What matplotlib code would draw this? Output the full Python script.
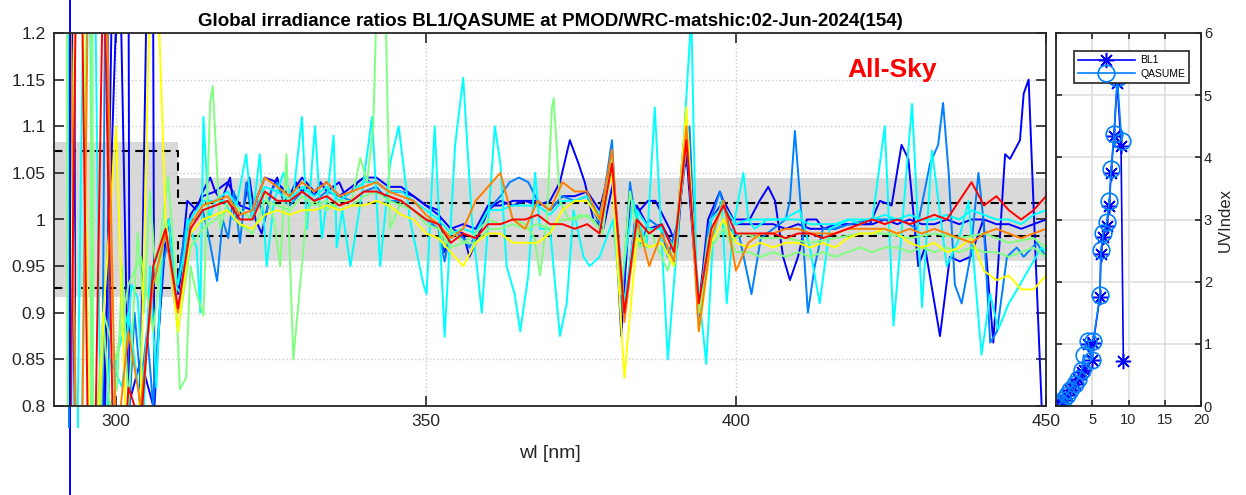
import matplotlib
matplotlib.use("Agg")
import numpy as np
import matplotlib.pyplot as plt

plt.rcParams['font.family'] = ['Liberation Sans', 'DejaVu Sans']

# wavelength grid of the "quiet" scans (nm)
wl = np.arange(290, 451, 2)

# ratio BL1/QASUME, one list per scan (2 nm steps)
red = [0.4, 0.4, 1.5, 0.5, 1.3, 0.6, 0.82, 0.78, 0.95, 0.99,
       0.905, 0.99, 1.01, 1.015, 1.02, 1.0, 1.0, 1.03, 1.02, 1.02,
       1.03, 1.02, 1.025, 1.015, 1.02, 1.03, 1.03, 1.025, 1.02, 1.01,
       1.0, 0.995, 0.975, 0.985, 0.98, 0.995, 0.995, 1.0, 1.0, 1.005,
       0.995, 0.995, 0.99, 0.995, 0.985, 1.06, 0.9, 1.0, 0.985, 0.995,
       0.965, 1.085, 0.91, 0.99, 1.015, 0.985, 0.985, 0.985, 0.985, 0.98,
       0.985, 0.985, 0.98, 0.985, 0.99, 0.995, 1.0, 0.995, 1.0, 0.995,
       1.0, 1.005, 1.0, 1.02, 1.04, 1.015, 1.025, 1.01, 1.0, 1.01,
       1.025]
orange = [1.6, 1.6, 0.5, 1.5, 1.4, 0.75, 0.88, 0.8, 0.93, 0.985,
          0.9, 0.995, 1.015, 1.02, 1.025, 1.005, 1.01, 1.045, 1.035, 1.025,
          1.04, 1.03, 1.04, 1.025, 1.03, 1.035, 1.04, 1.03, 1.025, 1.02,
          1.005, 0.995, 0.98, 0.99, 1.02, 1.035, 1.05, 1.0, 0.99, 1.02,
          1.01, 1.04, 1.03, 1.03, 1.0, 1.075, 0.89, 1.0, 0.95, 0.985,
          0.955, 1.1, 0.88, 0.98, 1.02, 0.945, 0.975, 0.985, 0.985, 0.99,
          0.99, 0.985, 0.985, 0.985, 0.99, 0.99, 0.99, 0.99, 0.985, 0.99,
          0.985, 0.99, 0.985, 0.98, 0.975, 0.985, 0.99, 0.985, 0.98, 0.985,
          0.99]
yellow = [0.5, 0.5, 1.6, 0.6, 0.9, 1.1, 0.7, 0.82, 1.4, 1.0,
          0.88, 0.985, 1.0, 1.005, 1.01, 0.995, 0.99, 1.005, 1.01, 1.005,
          1.01, 1.01, 1.015, 1.01, 1.015, 1.015, 1.02, 1.015, 1.005, 1.0,
          0.985, 0.98, 0.965, 0.95, 0.975, 0.985, 0.985, 0.975, 0.975, 0.975,
          0.985, 1.01, 1.02, 1.02, 1.0, 1.05, 0.83, 0.98, 0.97, 0.975,
          0.95, 1.12, 0.88, 0.975, 1.0, 0.975, 0.97, 0.975, 0.97, 0.975,
          0.975, 0.97, 0.975, 0.97, 0.98, 0.985, 0.985, 0.99, 0.985, 0.975,
          0.97, 0.975, 0.965, 0.97, 0.98, 0.945, 0.935, 0.94, 0.925, 0.925,
          0.94]
green_b = [1.6, 1.6, 0.5, 0.7, 0.9, 0.85, 0.93, 0.96, 0.88, 1.0,
           0.88, 0.97, 0.99, 1.0, 1.01, 0.995, 0.985, 1.02, 1.015, 1.01,
           1.025, 1.015, 1.02, 1.01, 1.015, 1.025, 1.03, 1.02, 1.015, 1.01,
           0.995, 0.99, 0.97, 0.975, 0.975, 0.99, 0.99, 0.995, 0.99, 0.995,
           0.99, 1.0, 1.0, 1.005, 0.99, 1.06, 0.9, 0.99, 0.97, 0.975,
           0.95, 1.1, 0.9, 0.97, 0.99, 0.965, 0.965, 0.96, 0.965, 0.96,
           0.965, 0.96, 0.965, 0.96, 0.965, 0.97, 0.965, 0.97, 0.97, 0.965,
           0.97, 0.965, 0.97, 0.965, 0.97, 0.965, 0.965, 0.96, 0.965, 0.97,
           0.96]
blue_b = [1.6, 1.6, 0.4, 0.6, 0.7, 1.5, 0.8, 0.85, 0.8, 0.98,
          0.92, 1.005, 1.025, 1.03, 1.04, 1.015, 1.01, 1.045, 1.04, 1.025,
          1.045, 1.03, 1.04, 1.025, 1.035, 1.045, 1.045, 1.035, 1.035, 1.025,
          1.015, 1.005, 0.99, 0.995, 0.99, 1.015, 1.015, 1.02, 1.02, 1.02,
          1.01, 1.025, 1.025, 1.03, 1.01, 1.065, 0.9, 1.015, 0.99, 0.995,
          0.97, 1.07, 0.9, 1.0, 1.02, 0.995, 0.995, 0.995, 0.995, 0.99,
          0.995, 0.99, 0.99, 0.99, 0.995, 0.995, 0.995, 1.0, 0.995, 1.0,
          0.995, 0.995, 1.0, 0.995, 1.0, 1.0, 0.995, 0.995, 0.99, 0.995,
          1.0]
cyan_b = [0.4, 0.4, 0.5, 1.6, 0.5, 0.85, 0.9, 0.8, 0.95, 0.98,
          0.93, 1.0, 1.02, 1.02, 1.03, 1.01, 1.0, 1.035, 1.03, 1.02,
          1.035, 1.025, 1.035, 1.02, 1.03, 1.04, 1.04, 1.03, 1.03, 1.02,
          1.01, 1.0, 0.985, 0.99, 0.985, 1.01, 1.01, 1.015, 1.015, 1.015,
          1.005, 1.02, 1.02, 1.025, 1.005, 1.06, 0.91, 1.01, 0.99, 0.99,
          0.97, 1.09, 0.9, 1.0, 1.015, 0.995, 1.0, 1.0, 1.0, 1.0,
          1.0, 0.995, 0.995, 0.995, 1.0, 1.0, 1.0, 1.005, 1.0, 1.005,
          1.0, 1.0, 1.005, 1.0, 1.01, 1.005, 1.0, 1.0, 0.995, 1.005,
          1.01]

# noisy scans, (wl, ratio) at the turning points
blue_a = [(290, 0.5), (292.4, 0.5), (293.2, 1.6), (293.5, 0.5), (297, 0.6), (301.9, 1.6), (302.3, 0.5),
          (304, 0.85), (305.8, 1.6), (306.2, 0.8), (307.5, 0.95), (308.5, 1.0), (309.5, 0.93),
          (310.5, 0.95), (311.5, 1.02), (313, 1.01), (314, 1.03), (315.2, 1.045), (316, 1.03),
          (317, 1.02), (318.4, 1.045), (319.2, 1.0), (320.5, 1.01), (321.5, 1.045), (322.5, 1.0),
          (323.5, 0.985), (325, 1.03), (326, 1.045), (327, 1.02), (328, 1.025), (329, 1.04),
          (330, 1.03), (331, 1.035), (332, 1.025), (333, 1.04), (334, 1.03), (335, 1.035),
          (336, 1.04), (337, 1.025), (338, 1.03), (339, 1.04), (340, 1.045), (341, 1.04),
          (342, 1.04), (343, 1.035), (344, 1.03), (346, 1.03), (348, 1.025), (350, 1.015),
          (352, 1.01), (353, 0.965), (354, 0.99), (356, 0.985), (357, 0.96), (358, 0.975),
          (360, 1.01), (362, 1.02), (364, 1.015), (366, 1.02), (368, 1.015), (370, 1.02),
          (371.6, 1.04), (373.2, 1.085), (374.6, 1.06), (375.6, 1.04), (377, 1.0), (378.6, 0.99),
          (380.2, 1.04), (381.5, 0.875), (382.9, 1.02), (384.5, 1.01), (385.8, 1.02), (387, 1.02),
          (389.3, 0.99), (390.5, 0.97), (391.5, 1.056), (392.5, 1.06), (393.9, 0.9), (395.5, 1.0),
          (397.4, 1.03), (399, 1.0), (400.6, 1.0), (402.2, 1.0), (403.8, 1.02), (405.2, 1.035),
          (406.3, 1.02), (407.6, 0.96), (408.7, 0.935), (410, 0.96), (411.4, 1.0), (413, 1.0),
          (414.1, 0.99), (416.2, 0.995), (418.4, 0.995), (420, 0.995), (421.6, 0.995), (423.2, 1.02),
          (425.1, 1.015), (426.7, 1.08), (427.8, 1.065), (429.4, 0.95), (430.5, 0.97), (432.9, 0.875),
          (434.5, 0.96), (436.1, 0.955), (437.8, 0.96), (439.9, 1.0), (441.5, 0.868), (443.4, 1.07),
          (444.2, 1.065), (445.8, 1.085), (446.4, 1.135), (447.2, 1.15), (448.2, 0.98), (449.3, 0.8),
          (450, 0.7)]
dodger_a = [(290, 0.4), (292.4, 0.4), (297.5, 0.5), (298.6, 1.6), (299, 0.4), (303, 0.9),
            (304, 0.82), (305, 0.88), (306, 0.8), (307.5, 0.95), (308.5, 0.98), (309.5, 0.91),
            (310.5, 0.96), (311.5, 1.0), (313, 1.0), (314, 1.01), (315, 0.98), (316.3, 0.934),
            (317.2, 1.0), (318.1, 0.98), (319, 1.03), (320, 0.975), (321, 1.04), (322, 1.0),
            (323, 1.02), (324, 1.0), (325, 1.03), (326, 1.04), (327, 1.02), (328, 1.015),
            (330, 1.03), (332, 1.02), (334, 1.03), (336, 1.025), (338, 1.02), (340, 1.03),
            (342, 1.035), (344, 1.02), (346, 1.02), (348, 1.01), (350, 1.0), (352, 0.99),
            (353, 0.955), (354, 0.99), (356, 0.98), (357, 0.97), (358, 0.985), (360, 1.01),
            (362, 1.025), (363.5, 1.04), (365, 1.045), (366.5, 1.04), (368, 1.02), (370, 1.01),
            (372, 1.025), (374, 1.02), (376, 1.025), (378, 0.995), (380, 1.085), (381.5, 0.9),
            (382.9, 1.04), (384.5, 0.97), (386, 1.0), (388, 0.99), (389, 0.96), (390.5, 0.995),
            (391.5, 1.08), (392.5, 1.1), (393.9, 0.89), (395.5, 0.99), (397.4, 1.03), (399, 0.99),
            (400.6, 0.98), (402.5, 0.92), (404, 0.98), (406, 0.99), (408, 1.0), (408.7, 1.02),
            (409.5, 1.095), (410.6, 1.0), (411.6, 0.9), (412.7, 0.95), (414, 0.99), (416, 0.99),
            (418.4, 0.995), (421.6, 1.0), (424, 1.0), (426.5, 1.0), (429.2, 0.99), (431.3, 1.06),
            (432.6, 1.08), (433.4, 1.125), (434.3, 1.05), (435.3, 0.93), (436.4, 0.91), (437.8, 0.96),
            (439.1, 1.05), (439.9, 1.0), (441, 0.868), (442.1, 0.88), (443.7, 0.96), (445.3, 0.97),
            (446.4, 0.96), (448.5, 0.975), (450, 0.96)]
cyan_a = [(290, 0.4), (292.2, 0.4), (292.5, 1.6), (293, 0.4), (295.5, 1.6), (296.5, 0.5), (299, 0.85),
          (301, 0.82), (302.5, 0.93), (303.5, 0.916), (304.5, 0.8), (305.5, 0.95), (306.5, 0.82),
          (307.5, 0.97), (308.5, 1.0), (309.5, 0.93), (310.5, 0.92), (311.5, 1.0), (313, 0.97),
          (313.6, 0.9), (314.1, 1.11), (315, 1.0), (316, 1.02), (317.5, 1.02), (319, 1.0),
          (321, 1.07), (322, 1.0), (323.2, 1.07), (324.3, 0.95), (325.5, 1.02), (327, 1.05),
          (328.5, 1.02), (330, 1.11), (330.8, 0.99), (332.1, 1.1), (333.2, 0.98), (334, 1.02),
          (335.1, 1.09), (335.6, 0.97), (336.5, 1.01), (337.8, 0.95), (339, 1.0), (339.9, 1.04),
          (341.3, 1.11), (342.6, 0.95), (344.2, 1.06), (345.6, 1.1), (347.4, 1.0), (349.6, 0.93),
          (350.1, 0.92), (351.4, 1.1), (353, 0.874), (354.7, 1.08), (356, 1.152), (357.4, 1.0),
          (359, 0.9), (361.1, 1.1), (362, 1.06), (363, 0.95), (364.3, 0.92), (365.2, 0.88),
          (366.5, 0.94), (367.6, 1.05), (368.4, 0.99), (370, 0.99), (371.6, 0.875), (372.7, 0.91),
          (373.8, 1.01), (375.4, 0.96), (376.4, 0.95), (378, 0.96), (380.2, 1.0), (381.3, 0.92),
          (383.4, 1.02), (385.6, 0.97), (386.9, 1.12), (389, 0.85), (390.7, 0.99), (392.8, 1.22),
          (393.6, 0.95), (395.2, 0.845), (396.3, 0.98), (397.7, 1.02), (398.5, 0.91), (399.5, 0.99),
          (401.2, 1.05), (402, 1.0), (403, 0.99), (405, 1.0), (407.6, 1.0), (410.3, 1.01),
          (411.9, 0.97), (413.5, 0.91), (415.1, 0.99), (418.4, 1.0), (420, 0.995), (422, 1.0),
          (424, 1.1), (425.4, 0.886), (426.5, 0.97), (428.4, 1.124), (430, 0.906), (431.6, 1.074),
          (434, 0.95), (436, 0.98), (437.5, 1.02), (439.6, 0.855), (441, 0.92), (442.3, 0.882),
          (444, 0.91), (445.8, 0.93), (447.5, 0.95), (449.3, 0.97), (450, 0.965)]
green_a = [(290, 1.6), (292, 1.6), (292.3, 0.4), (295.8, 0.4), (296.1, 1.6),
           (296.4, 0.4), (297.9, 0.9), (299, 0.8), (300.2, 0.82), (301, 0.95), (302, 0.8),
           (303.5, 0.986), (304.5, 0.9), (305.5, 1.03), (306.5, 0.93), (307.5, 1.0), (308.4, 1.046),
           (309.5, 0.95), (310.3, 0.818), (311.3, 0.83), (312, 0.95), (313, 0.92), (314.1, 0.897),
           (315.2, 1.127), (315.6, 1.143), (316.8, 0.99), (318, 1.02), (320, 1.01), (322, 1.0),
           (324, 1.03), (325.5, 1.0), (326.5, 0.95), (327.5, 1.07), (328.6, 0.85), (329.7, 0.93),
           (330.8, 1.01), (332, 1.02), (334, 1.01), (336, 1.02), (338, 1.02), (339.4, 1.066),
           (340.5, 1.04), (341.5, 1.1), (342.1, 1.25), (343.4, 1.25), (344.2, 0.99), (346, 1.02),
           (348, 1.01), (350, 1.0), (352, 0.995), (353, 0.97), (354, 0.99), (356, 0.975),
           (358, 0.985), (360, 1.0), (362, 0.995), (364, 1.0), (366, 0.995), (367.5, 0.98),
           (368.4, 0.94), (369.5, 1.0), (370.3, 1.12), (370.6, 1.13), (371.6, 1.02), (373, 1.0),
           (375, 1.005), (377, 1.0), (378.5, 0.985), (380, 1.07), (381.5, 0.92), (382.9, 1.03),
           (384.5, 0.97), (386, 0.99), (389, 0.945), (390.5, 0.99), (392.2, 1.09), (393.9, 0.9),
           (395.5, 0.98), (397.4, 1.01), (399, 0.975), (401, 0.985), (404, 0.98), (408, 0.98),
           (412, 0.975), (416, 0.98), (420, 0.985), (424, 0.985), (428, 0.98), (432, 0.985),
           (436, 0.98), (440, 0.985), (444, 0.975), (448, 0.98), (450, 0.97)]

# stray segments MATLAB drew outside the axes
stray_blue = [(292.6, 1.3), (292.6, 0.6)]
stray_dodger = [(292.4, 0.8), (292.4, 0.7775)]
stray_cyan = [(293.9, 0.8), (293.9, 0.7775)]

# tolerance band and limits
band_wl = [290, 310, 450]
band_lo = [0.917, 0.956, 0.956]
band_hi = [1.083, 1.044, 1.044]
lim_lo = [0.927, 0.982, 0.982]
lim_hi = [1.073, 1.018, 1.018]

# UV index panel
bl1_x = [0.3, 0.55, 1.0, 1.45, 1.9, 2.6, 3.1, 3.55, 3.8, 4.9, 4.4, 5.15, 6.05, 6.2, 6.53,
         7.0, 7.35, 7.6, 8.0, 8.45, 8.97, 9.29]
bl1_y = [0.0, 0.03, 0.09, 0.17, 0.25, 0.35, 0.43, 0.55, 0.58, 0.74, 1.0, 1.02, 1.75, 2.45, 2.72,
         2.9, 3.22, 3.75, 4.35, 5.2, 4.19, 0.73]
qas_x = [0.3, 0.55, 1.0, 1.45, 1.9, 2.6, 3.1, 3.55, 3.8, 4.9, 4.4, 5.15, 6.05, 6.2, 6.55,
         7.0, 7.35, 7.6, 8.0, 8.45, 9.05]
qas_y = [0.0, 0.03, 0.10, 0.18, 0.26, 0.36, 0.44, 0.58, 0.82, 0.74, 1.05, 1.05, 1.78, 2.51, 2.79,
         2.96, 3.29, 3.81, 4.37, 5.28, 4.27]

c_blue = (0, 0, 1)
c_dodger = (0, 0.5, 1)
c_cyan = (0, 1, 1)
c_green = (0.5, 1, 0.5)
c_yellow = (1, 1, 0)
c_orange = (1, 0.5, 0)
c_red = (1, 0, 0)
axcol = (0.15, 0.15, 0.15)

fig = plt.figure(figsize=(12.46, 4.95), dpi=100)
ax = fig.add_axes([54 / 1246, 89 / 495, 992 / 1246, 373 / 495])

ax.fill_between(band_wl, band_lo, band_hi, step='post', color=(0.85, 0.85, 0.85),
                lw=0, zorder=0.2)
ax.step(band_wl, lim_hi, where='post', color='k', ls=(0, (4, 2.5)), lw=1.5, zorder=0.3)
ax.step(band_wl, lim_lo, where='post', color='k', ls=(0, (4, 2.5)), lw=1.5, zorder=0.3)

lw = 1.4
ax.plot(wl, blue_b, color=c_blue, lw=lw)
ax.plot(*zip(*blue_a), color=c_blue, lw=lw)
ax.plot(*zip(*dodger_a), color=c_dodger, lw=lw)
ax.plot(wl, cyan_b, color=c_cyan, lw=lw)
ax.plot(*zip(*cyan_a), color=c_cyan, lw=lw)
ax.plot(wl, green_b, color=c_green, lw=lw)
ax.plot(*zip(*green_a), color=c_green, lw=lw)
ax.plot(wl, yellow, color=c_yellow, lw=lw)
ax.plot(wl, orange, color=c_orange, lw=lw)
ax.plot(wl, red, color=c_red, lw=lw)
ax.plot(*zip(*stray_blue), color=c_blue, lw=lw, clip_on=False)
ax.plot(*zip(*stray_dodger), color=c_dodger, lw=lw, clip_on=False)
ax.plot(*zip(*stray_cyan), color=c_cyan, lw=lw, clip_on=False)

ax.set_xlim(290, 450)
ax.set_ylim(0.8, 1.2)
ax.set_xticks([300, 350, 400, 450])
yt = [0.8, 0.85, 0.9, 0.95, 1.0, 1.05, 1.1, 1.15, 1.2]
ax.set_yticks(yt)
ax.set_yticklabels(['0.8', '0.85', '0.9', '0.95', '1', '1.05', '1.1', '1.15', '1.2'])
ax.grid(True, ls=':', color=(0.8, 0.8, 0.8), lw=1.0)
ax.set_axisbelow(True)
ax.tick_params(direction='in', length=7, width=1.2, top=True, right=True,
               labelsize=12.5, colors=axcol, pad=6)
for s in ax.spines.values():
    s.set_color(axcol)
    s.set_linewidth(1.3)
ax.set_xlabel('wl [nm]', fontsize=14, color=axcol, labelpad=11)
ax.set_title('Global irradiance ratios BL1/QASUME at PMOD/WRC-matshic:02-Jun-2024(154)',
             fontsize=13.5, fontweight='bold', pad=5)
ax.text(418, 1.16, 'All-Sky', color='red', fontsize=19, fontweight='bold',
        ha='left', va='center')

ax2 = fig.add_axes([1056 / 1246, 89 / 495, 145 / 1246, 373 / 495])
ax2.plot(bl1_x, bl1_y, '-', marker=(8, 2, 0), color=c_blue, ms=11, lw=1.2, mew=1.1,
         label='BL1')
ax2.plot(qas_x, qas_y, '-o', color=c_dodger, ms=12, lw=1.2, mew=1.2, mfc='none',
         label='QASUME')
ax2.set_xlim(0, 20)
ax2.set_ylim(0, 6)
ax2.set_xticks([0, 5, 10, 15, 20])
ax2.set_xticklabels(['', '5', '10', '15', '20'])
ax2.set_yticks([0, 1, 2, 3, 4, 5, 6])
ax2.grid(True, color=(0.87, 0.87, 0.87), lw=1.2)
ax2.set_axisbelow(True)
ax2.tick_params(direction='in', length=4, width=1.2, top=True, right=True, left=True,
                labelleft=False, labelright=True, labelsize=10.5, colors=axcol, pad=2)
ax2.tick_params(axis='x', pad=5)
ax2.yaxis.set_label_position('right')
ax2.set_ylabel('UVIndex', fontsize=12, color=axcol, labelpad=4)
for s in ax2.spines.values():
    s.set_color(axcol)
    s.set_linewidth(1.3)
leg = ax2.legend(loc='upper right', bbox_to_anchor=(0.955, 0.965), fontsize=7.5,
                 handlelength=5.5, fancybox=False, framealpha=1, borderpad=0.4,
                 labelspacing=0.3, handletextpad=0.5)
leg.get_frame().set_edgecolor(axcol)
leg.get_frame().set_linewidth(1.2)

fig.savefig('out.png', dpi=100)
